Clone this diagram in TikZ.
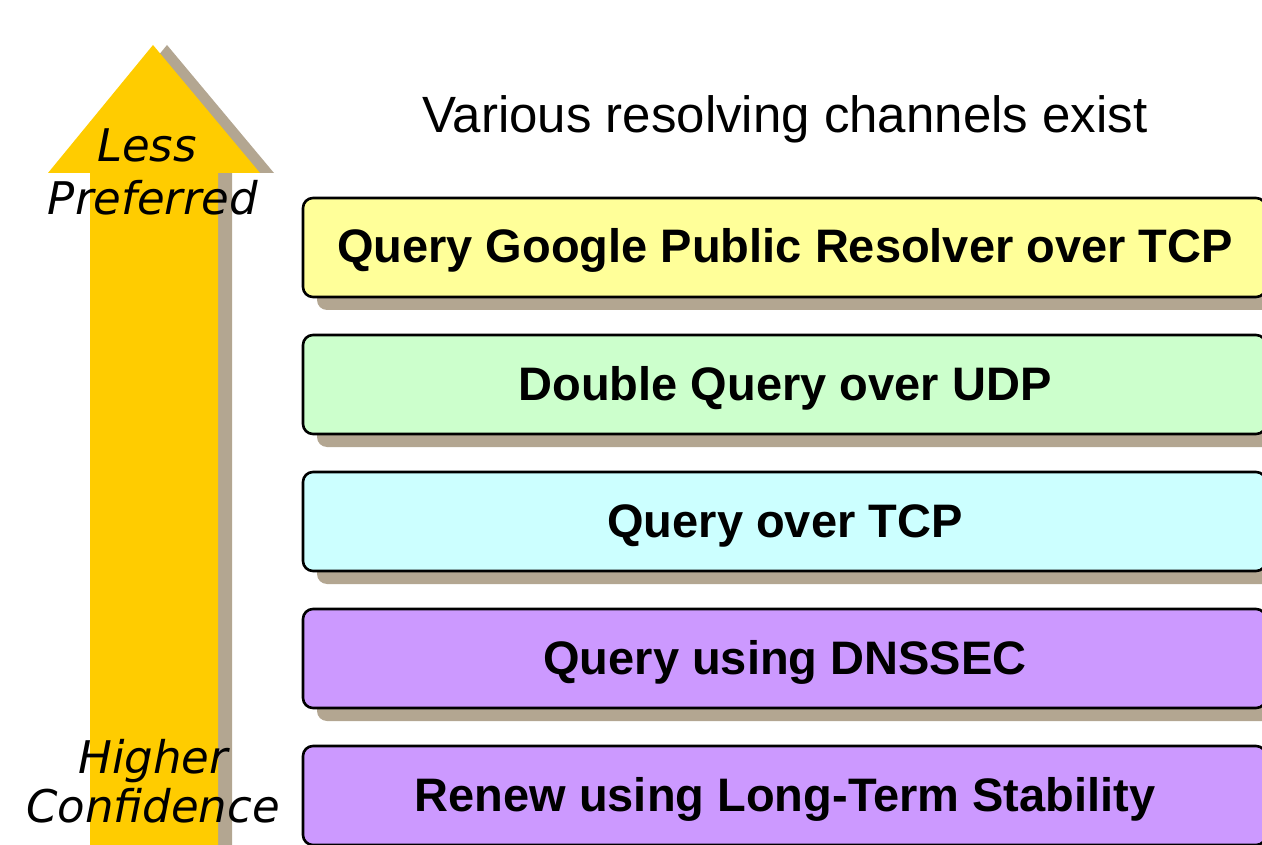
\documentclass[tikz,border=0pt]{standalone}
\usepackage{fontspec}
\setmainfont{Liberation Sans}
\newfontfamily\arrowfont{DejaVu Sans}
\definecolor{arrowyellow}{HTML}{FFCC00}
\definecolor{shadowtan}{HTML}{B3A691}
\definecolor{boxyellow}{HTML}{FFFF99}
\definecolor{boxgreen}{HTML}{CCFFCC}
\definecolor{boxcyan}{HTML}{CCFFFF}
\definecolor{boxpurple}{HTML}{CC99FF}
\tikzset{
  channel/.style={draw=black, line width=2.6pt, rounded corners=10pt},
  chshadow/.style={fill=shadowtan, rounded corners=10pt},
  chlabel/.style={font=\bfseries\fontsize{47}{52}\selectfont, anchor=base, inner sep=0pt},
  arrlabel/.style={font=\arrowfont\itshape\fontsize{45}{50}\selectfont, anchor=base, inner sep=0pt},
}
\begin{document}
\begin{tikzpicture}[x=1pt,y=-1pt]
\useasboundingbox (0,0) rectangle (1262,845);
% arrow shadow
\fill[shadowtan] (167,45) -- (274,173) -- (232,173) -- (232,850) -- (104,850) -- (104,173) -- (62,173) -- cycle;
% arrow
\fill[arrowyellow] (153,45) -- (260,173) -- (218,173) -- (218,850) -- (90,850) -- (90,173) -- (48,173) -- cycle;
\node[arrlabel] (less) at (147,162) {Less};
\node[arrlabel] (pref) at (153,215) {Preferred};
\node[arrlabel] (high) at (153,773) {Higher};
\node[arrlabel] (conf) at (153,822) {Confidence};
% title
\node[font=\fontsize{51}{56}\selectfont, anchor=base, inner sep=0pt] (title) at (785,133) {Various resolving channels exist};
% boxes
\foreach \t/\c/\n/\lab in {198/boxyellow/b1/{Query Google Public Resolver over TCP},
                     335/boxgreen/b2/{Double Query over UDP},
                     472/boxcyan/b3/{Query over TCP},
                     609/boxpurple/b4/{Query using DNSSEC},
                     746/boxpurple/b5/{Renew using Long-Term Stability}}{
  \fill[chshadow] (317,\t+13) rectangle (1280,\t+112);
  \draw[channel, fill=\c] (303,\t) rectangle (1266,\t+99);
  \node[chlabel] (\n) at (785,\t+65) {\lab};
}
\end{tikzpicture}
\end{document}
